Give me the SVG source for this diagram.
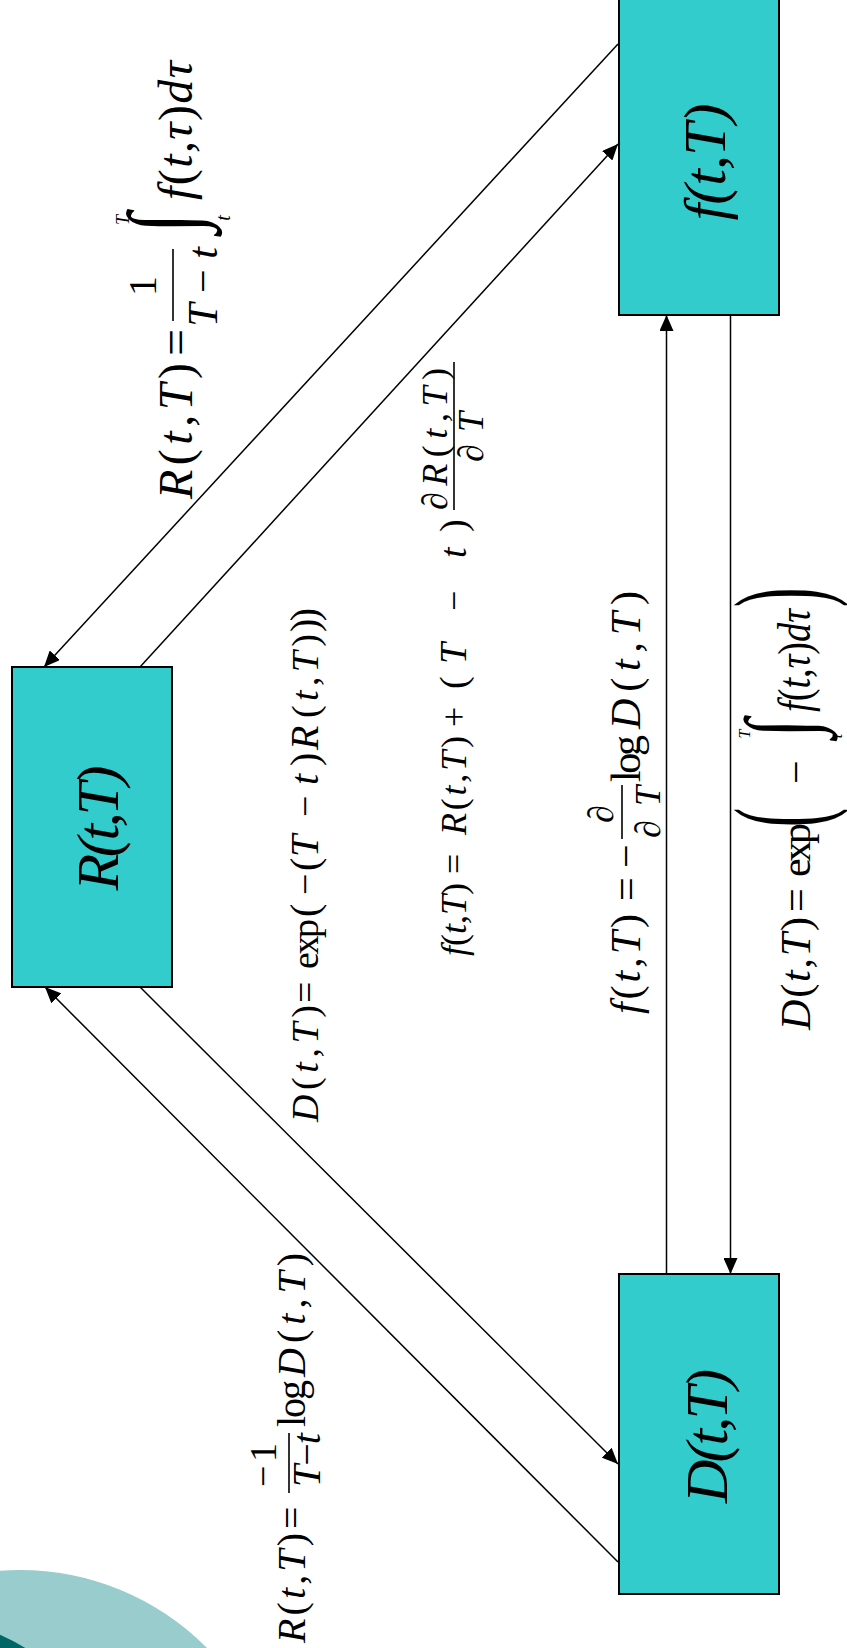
<svg xmlns="http://www.w3.org/2000/svg" width="847" height="1648" viewBox="0 0 847 1648">
  <style>
    .box { fill: #33CCCC; stroke: #000; stroke-width: 2; }
    .lbl { font-family: "Liberation Serif", "Times New Roman", serif; font-style: italic; fill: #000; }
    .m { font-family: "Liberation Serif", "Times New Roman", serif; fill: #000; }
    .i { font-style: italic; }
    .bar { stroke: #000; stroke-width: 1.6; }
    .conn line { stroke: #000; stroke-width: 1.5; fill: none; marker-end: url(#ah); }
  </style>
  <defs>
    <marker id="ah" markerWidth="16" markerHeight="14" refX="16" refY="7" orient="auto" markerUnits="userSpaceOnUse">
      <path d="M0,0 L16,7 L0,14 z" fill="#000"/>
    </marker>
  </defs>

  <rect width="847" height="1648" fill="#fff"/>

  <!-- corner decoration -->
  <g id="decor">
    <circle cx="20" cy="1833" r="263" fill="#99CCCC"/>
    <circle cx="-80" cy="1818" r="200" fill="#006666"/>
  </g>

  <!-- connectors -->
  <g id="connectors" class="conn">
    <line x1="618" y1="44" x2="44" y2="667"/>
    <line x1="140" y1="667" x2="618" y2="144"/>
    <line x1="140" y1="987" x2="618" y2="1464"/>
    <line x1="618" y1="1562" x2="45" y2="987"/>
    <line x1="666.5" y1="1274" x2="666.5" y2="315"/>
    <line x1="730.5" y1="315" x2="730.5" y2="1274"/>
  </g>

  <!-- nodes -->
  <g id="node-R">
    <rect class="box" x="12" y="667" width="160" height="320"/>
    <text class="lbl" font-size="60" text-anchor="middle" textLength="125" transform="translate(118,828) rotate(-90)">R(t,T)</text>
  </g>
  <g id="node-f">
    <rect class="box" x="619" y="-5" width="160" height="320"/>
    <text class="lbl" font-size="60" text-anchor="middle" textLength="117" transform="translate(725,162) rotate(-90)">f(t,T)</text>
  </g>
  <g id="node-D">
    <rect class="box" x="619" y="1274" width="160" height="320"/>
    <text class="lbl" font-size="60" text-anchor="middle" textLength="134" transform="translate(727,1436) rotate(-90)">D(t,T)</text>
  </g>

  <!-- R from f: mean of the forward curve -->
  <g id="eq-R-from-f" transform="translate(192,499) rotate(-90)">
    <text class="m" x="0" y="0" font-size="48" textLength="136"><tspan class="i">R</tspan>(<tspan class="i">t</tspan>,<tspan class="i">T</tspan>)</text>
    <text class="m" x="143" y="0" font-size="48" textLength="28">=</text>
    <line class="bar" x1="178" y1="-19" x2="250" y2="-19"/>
    <text class="m" x="213" y="-36" font-size="40" text-anchor="middle">1</text>
    <text class="m" x="212" y="25" font-size="42" text-anchor="middle"><tspan class="i">T</tspan> − <tspan class="i">t</tspan></text>
    <text class="m" font-size="98" text-anchor="middle" transform="translate(276,4) scale(0.75,1)">∫</text>
    <text class="m i" x="279" y="-63" font-size="18" text-anchor="middle">T</text>
    <text class="m i" x="281" y="38" font-size="20" text-anchor="middle">t</text>
    <text class="m" x="299" y="0" font-size="48" textLength="139"><tspan class="i">f</tspan>(<tspan class="i">t</tspan>,<tspan class="i">τ</tspan>)<tspan class="i">dτ</tspan></text>
  </g>

  <!-- f from R -->
  <g id="eq-f-from-R" transform="translate(466,956) rotate(-90)">
    <text class="m" x="0" y="0" font-size="36" textLength="73"><tspan class="i">f</tspan>(<tspan class="i">t</tspan>,<tspan class="i">T</tspan>)</text>
    <text class="m" x="82" y="0" font-size="36" textLength="24">=</text>
    <text class="m" x="121" y="0" font-size="36" textLength="99"><tspan class="i">R</tspan>(<tspan class="i">t</tspan>,<tspan class="i">T</tspan>)</text>
    <text class="m" x="229" y="0" font-size="36" textLength="28">+</text>
    <text class="m" x="267" y="0" font-size="38">(</text>
    <text class="m i" x="292" y="0" font-size="38">T</text>
    <text class="m" x="345" y="0" font-size="36">−</text>
    <text class="m i" x="398" y="0" font-size="38">t</text>
    <text class="m" x="424" y="0" font-size="38">)</text>
    <line class="bar" x1="446" y1="-12" x2="594" y2="-12"/>
    <text class="m" x="446" y="-19" font-size="36" textLength="142">∂<tspan class="i">R</tspan>(<tspan class="i">t</tspan>,<tspan class="i">T</tspan>)</text>
    <text class="m" x="494" y="17" font-size="36" textLength="50">∂<tspan class="i">T</tspan></text>
  </g>

  <!-- D from R -->
  <g id="eq-D-from-R" transform="translate(318,1122) rotate(-90)">
    <text class="m" x="0" y="0" font-size="38" textLength="117"><tspan class="i">D</tspan>(<tspan class="i">t</tspan>,<tspan class="i">T</tspan>)</text>
    <text class="m" x="119" y="0" font-size="38" textLength="28">=</text>
    <text class="m" x="153" y="0" font-size="38" textLength="50">exp</text>
    <text class="m" x="205" y="0" font-size="40">(</text>
    <text class="m" x="227" y="0" font-size="38">−</text>
    <text class="m" x="251" y="0" font-size="40">(</text>
    <text class="m i" x="265" y="0" font-size="40">T</text>
    <text class="m" x="305" y="0" font-size="38">−</text>
    <text class="m i" x="337" y="0" font-size="40">t</text>
    <text class="m" x="356" y="0" font-size="40">)</text>
    <text class="m i" x="372" y="0" font-size="40">R</text>
    <text class="m" x="404" y="0" font-size="38" textLength="84">(<tspan class="i">t</tspan>,<tspan class="i">T</tspan>)</text>
    <text class="m" x="490" y="0" font-size="40" textLength="24">))</text>
  </g>

  <!-- R from D -->
  <g id="eq-R-from-D" transform="translate(305,1643) rotate(-90)">
    <text class="m" x="0" y="0" font-size="40" textLength="110"><tspan class="i">R</tspan>(<tspan class="i">t</tspan>,<tspan class="i">T</tspan>)</text>
    <text class="m" x="114" y="0" font-size="40" textLength="28">=</text>
    <line class="bar" x1="150" y1="-16" x2="210" y2="-16"/>
    <text class="m" x="178" y="-29" font-size="38" text-anchor="middle" textLength="44">−1</text>
    <text class="m" x="183" y="15" font-size="40" text-anchor="middle" textLength="54"><tspan class="i">T</tspan>−<tspan class="i">t</tspan></text>
    <text class="m" x="216" y="0" font-size="40" textLength="47">log</text>
    <text class="m" x="266" y="0" font-size="40" textLength="124"><tspan class="i">D</tspan>(<tspan class="i">t</tspan>,<tspan class="i">T</tspan>)</text>
  </g>

  <!-- f from D -->
  <g id="eq-f-from-D" transform="translate(640,1014) rotate(-90)">
    <text class="m" x="0" y="0" font-size="42" textLength="100"><tspan class="i">f</tspan>(<tspan class="i">t</tspan>,<tspan class="i">T</tspan>)</text>
    <text class="m" x="113" y="0" font-size="42" textLength="26">=</text>
    <text class="m" x="146" y="0" font-size="42" textLength="25">−</text>
    <line class="bar" x1="175" y1="-18" x2="229" y2="-18"/>
    <text class="m" x="200" y="-27" font-size="36" text-anchor="middle">∂</text>
    <text class="m" x="202" y="20" font-size="36" text-anchor="middle" textLength="52">∂<tspan class="i">T</tspan></text>
    <text class="m" x="232" y="0" font-size="42" textLength="47">log</text>
    <text class="m" x="285" y="0" font-size="42" textLength="138"><tspan class="i">D</tspan>(<tspan class="i">t</tspan>,<tspan class="i">T</tspan>)</text>
  </g>

  <!-- D from f -->
  <g id="eq-D-from-f" transform="translate(810,1030) rotate(-90)">
    <text class="m" x="0" y="0" font-size="42" textLength="113"><tspan class="i">D</tspan>(<tspan class="i">t</tspan>,<tspan class="i">T</tspan>)</text>
    <text class="m" x="118" y="0" font-size="42" textLength="30">=</text>
    <text class="m" x="153" y="0" font-size="42" textLength="54">exp</text>
    <text class="m" font-size="128" transform="translate(203,12) scale(0.45,1)">(</text>
    <text class="m" x="246" y="0" font-size="42" textLength="22">−</text>
    <text class="m" font-size="96" text-anchor="middle" transform="translate(302,2) scale(0.72,1)">∫</text>
    <text class="m i" x="296" y="-60" font-size="16" text-anchor="middle">T</text>
    <text class="m i" x="294" y="32" font-size="16" text-anchor="middle">t</text>
    <text class="m" x="318" y="0" font-size="46" textLength="103" lengthAdjust="spacingAndGlyphs"><tspan class="i">f</tspan>(<tspan class="i">t</tspan>,<tspan class="i">τ</tspan>)<tspan class="i">dτ</tspan></text>
    <text class="m" font-size="128" transform="translate(423,12) scale(0.45,1)">)</text>
  </g>
</svg>
